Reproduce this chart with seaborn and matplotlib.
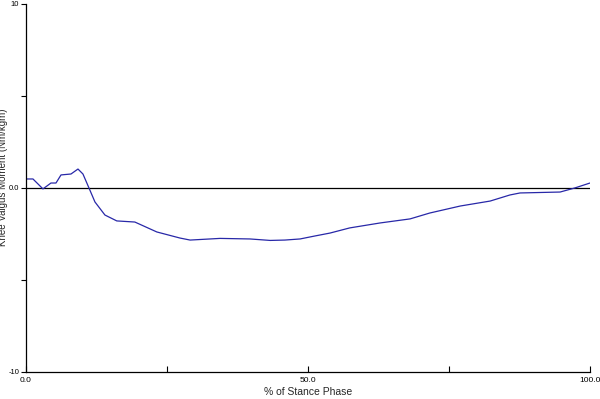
import matplotlib
matplotlib.use("Agg")
import matplotlib.pyplot as plt
import seaborn as sns
import pandas as pd

stance_pct = [0, 1.24, 3.01, 4.43, 5.32, 6.21, 7.98, 9.22, 10.1, 11.17, 12.23, 14.0,
              16.1, 19.3, 23.2, 27.3, 29.1, 34.4, 39.7, 43.3, 45.9, 48.6, 51.2, 53.9,
              57.4, 62.8, 68.1, 71.6, 77.0, 82.3, 85.8, 87.6, 94.7, 97.3, 100]
valgus_moment = [0.49, 0.49, -0.05, 0.27, 0.27, 0.71, 0.76, 1.03, 0.76, 0.0, -0.76, -1.47,
                 -1.79, -1.85, -2.39, -2.72, -2.83, -2.74, -2.77, -2.85, -2.83, -2.77, -2.61, -2.45,
                 -2.17, -1.90, -1.68, -1.36, -0.98, -0.71, -0.38, -0.27, -0.22, 0.0, 0.27]
x_ticks = [0, 25, 50, 75, 100]
x_labels = ["0.0", "", "50.0", "", "100.0"]
y_ticks = [-10, -5, 0, 5, 10]
y_labels = ["-10", "", "0.0", "", "10"]

sns.set_style("white")
plt.rcParams['font.family'] = ['Liberation Sans', 'DejaVu Sans']

df = pd.DataFrame({"pct": stance_pct, "moment": valgus_moment})

fig = plt.figure(figsize=(6, 3.99), dpi=100)
ax = fig.add_axes([0.0433, 0.0677, 0.94, 0.9223])
ax.axhline(0, color="black", lw=0.9, zorder=1)
sns.lineplot(data=df, x="pct", y="moment", ax=ax, color="#2828a8", lw=0.9, zorder=2)

ax.set_xlim(0, 100)
ax.set_ylim(-10, 10)
ax.set_xticks(x_ticks)
ax.set_xticklabels(x_labels, fontsize=6)
ax.set_yticks(y_ticks)
ax.set_yticklabels(y_labels, fontsize=5.5)
ax.tick_params(axis="x", bottom=True, direction="in", length=4, width=0.8, pad=3.5, colors="black")
ax.tick_params(axis="y", left=True, direction="out", length=3.8, width=0.8, pad=1.2, colors="black")
for s in ["top", "right"]:
    ax.spines[s].set_visible(False)
for s in ["left", "bottom"]:
    ax.spines[s].set_color("black")
    ax.spines[s].set_linewidth(0.9)
ax.set_xlabel("% of Stance Phase", fontsize=7.5)
ax.set_ylabel("Knee Valgus Moment (Nm/kgm)", fontsize=7)
ax.xaxis.set_label_coords(0.5, -0.042)
ax.yaxis.set_label_coords(-0.031, 0.53)

fig.savefig("out.png", dpi=100)
